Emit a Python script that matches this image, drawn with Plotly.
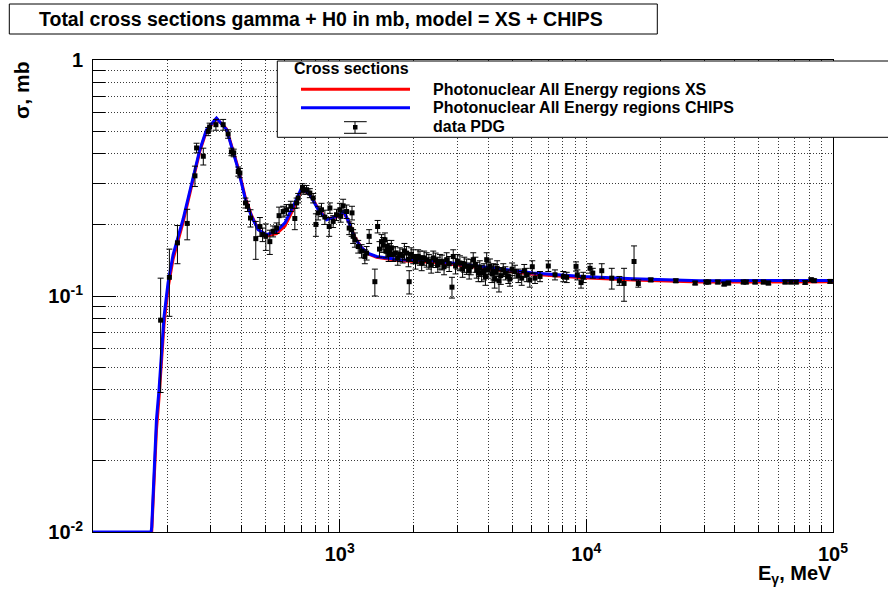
import plotly.graph_objects as go

# ---------------- data ----------------
# model curves (energy in MeV, sigma in mb)
model_energy = [100, 172, 173, 178, 180.8, 185.2, 189.5, 194.1, 201.5, 211.1, 231.8, 250.7, 271, 288.4,
                316.7, 348, 368, 388, 415, 439, 467, 505, 555, 600, 648, 701, 757, 818, 885, 971,
                1040, 1090, 1150, 1230, 1300, 1411, 1754, 2388, 3272, 4196, 6077, 9696, 15470,
                28930, 100000]
sigma_chips = [0.01, 0.01, 0.0105, 0.0202, 0.0299, 0.0401, 0.0592, 0.082, 0.1139, 0.1496, 0.2115, 0.2977,
               0.4169, 0.5066, 0.5679, 0.507, 0.417, 0.343, 0.256, 0.2175, 0.191, 0.182, 0.188, 0.204,
               0.240, 0.287, 0.269, 0.232, 0.2105, 0.2175, 0.228, 0.205, 0.176, 0.160, 0.152, 0.147,
               0.1425, 0.141, 0.1357, 0.1314, 0.1252, 0.121, 0.1184, 0.1161, 0.1163]
sigma_xs = [0.0099, 0.0099, 0.0100, 0.0180, 0.0270, 0.0370, 0.0550, 0.0760, 0.1080, 0.1430, 0.2050, 0.2920,
            0.4100, 0.5000, 0.5650, 0.510, 0.422, 0.348, 0.260, 0.2200, 0.192, 0.180, 0.184, 0.198,
            0.233, 0.283, 0.270, 0.235, 0.2120, 0.2160, 0.226, 0.206, 0.178, 0.160, 0.151, 0.146,
            0.1410, 0.139, 0.1340, 0.1300, 0.1235, 0.1195, 0.1168, 0.1145, 0.1148]

# PDG data points
pdg_energy = [188, 204, 220, 241, 259, 263, 280, 293, 297, 315, 337, 353, 364, 372, 388, 394, 415, 423,
              435, 457, 475, 487, 502, 521, 537, 555, 568, 590, 609, 634, 658, 669, 679, 707, 711, 734,
              757, 781, 801, 818, 844, 871, 907, 913, 941, 971, 1002, 1010, 1033, 1067, 1093, 1118, 1122,
              1134, 1153, 1189, 1227, 1265, 1286, 1317, 1389, 1425, 1450, 1479, 1500, 1526, 1540, 1559,
              1580, 1598, 1620, 1648, 1680, 1720, 1754, 1800, 1830, 1868, 1900, 1914, 1950, 1987, 2030,
              2080, 2116, 2150, 2200, 2252, 2300, 2350, 2395, 2450, 2500, 2550, 2600, 2650, 2715, 2780,
              2853, 2887, 2950, 3000, 3073, 3150, 3200, 3272, 3350, 3400, 3479, 3550, 3593, 3650, 3700,
              3764, 3850, 3900, 3945, 4000, 4068, 4150, 4200, 4250, 4300, 4350, 4424, 4500, 4605, 4700,
              4827, 4900, 5000, 5138, 5300, 5470, 5600, 5731, 5900, 6038, 6194, 6490, 7012, 7464, 8067,
              8327, 9083, 9193, 9517, 9723, 10350, 10620, 11550, 12680, 13610, 14220, 15610, 16250,
              18250, 23060, 27610, 30600, 31260, 34120, 36200, 37670, 43350, 44460, 48340, 52250,
              54730, 64000, 67480, 70920, 77140, 81560, 83880, 97400]
pdg_sigma = [0.079, 0.120, 0.168, 0.203, 0.323, 0.424, 0.391, 0.498, 0.520, 0.532, 0.532, 0.486, 0.408,
             0.404, 0.337, 0.332, 0.248, 0.240, 0.214, 0.175, 0.197, 0.182, 0.179, 0.170, 0.188, 0.194,
             0.219, 0.228, 0.232, 0.240, 0.213, 0.248, 0.260, 0.287, 0.282, 0.282, 0.273, 0.260, 0.201,
             0.225, 0.232, 0.216, 0.197, 0.236, 0.207, 0.221, 0.232, 0.2175, 0.241, 0.228, 0.194, 0.191,
             0.225, 0.179, 0.173, 0.162, 0.155, 0.147, 0.152, 0.179, 0.115, 0.197, 0.158, 0.170, 0.165,
             0.173, 0.155, 0.162, 0.150, 0.157, 0.160, 0.150, 0.152, 0.145, 0.150, 0.148, 0.155, 0.152,
             0.143, 0.115, 0.150, 0.147, 0.140, 0.147, 0.145, 0.138, 0.145, 0.1425, 0.140, 0.135, 0.145,
             0.142, 0.136, 0.140, 0.139, 0.133, 0.1425, 0.137, 0.109, 0.147, 0.134, 0.140, 0.138, 0.130,
             0.136, 0.1335, 0.128, 0.133, 0.1425, 0.136, 0.129, 0.125, 0.131, 0.125, 0.127, 0.121,
             0.1425, 0.129, 0.1335, 0.124, 0.127, 0.118, 0.126, 0.131, 0.116, 0.122, 0.129, 0.125,
             0.121, 0.118, 0.130, 0.127, 0.122, 0.119, 0.128, 0.123, 0.117, 0.133, 0.119, 0.121, 0.134,
             0.123, 0.121, 0.120, 0.1335, 0.123, 0.114, 0.120, 0.131, 0.125, 0.128, 0.119, 0.116,
             0.113, 0.140, 0.113, 0.117, 0.116, 0.1135, 0.1146, 0.1146, 0.1146, 0.1124, 0.1135,
             0.1146, 0.1146, 0.1146, 0.1146, 0.1135, 0.1146, 0.1146, 0.1146, 0.1142, 0.1172, 0.1161,
             0.1153]
pdg_error = [0.040, 0.038, 0.031, 0.030, 0.032, 0.020, 0.032, 0.020, 0.020, 0.028, 0.028, 0.020, 0.015,
             0.015, 0.015, 0.015, 0.012, 0.012, 0.018, 0.032, 0.018, 0.012, 0.023, 0.020, 0.010, 0.010,
             0.019, 0.012, 0.012, 0.012, 0.022, 0.012, 0.012, 0.012, 0.012, 0.012, 0.012, 0.012, 0.022,
             0.015, 0.015, 0.015, 0.018, 0.012, 0.012, 0.012, 0.015, 0.012, 0.016, 0.015, 0.012, 0.012,
             0.015, 0.012, 0.012, 0.010, 0.010, 0.010, 0.010, 0.012, 0.015, 0.012, 0.012, 0.012, 0.012,
             0.012, 0.010, 0.010, 0.010, 0.010, 0.012, 0.010, 0.010, 0.010, 0.010, 0.010, 0.012, 0.010,
             0.010, 0.013, 0.010, 0.010, 0.010, 0.010, 0.010, 0.010, 0.010, 0.010, 0.010, 0.010, 0.010,
             0.010, 0.010, 0.010, 0.010, 0.010, 0.010, 0.010, 0.011, 0.010, 0.010, 0.010, 0.010, 0.010,
             0.010, 0.010, 0.010, 0.010, 0.010, 0.010, 0.010, 0.010, 0.010, 0.010, 0.010, 0.010, 0.010,
             0.010, 0.010, 0.010, 0.010, 0.010, 0.010, 0.010, 0.012, 0.010, 0.008, 0.008, 0.008, 0.008,
             0.008, 0.008, 0.008, 0.008, 0.008, 0.008, 0.008, 0.008, 0.006, 0.006, 0.007, 0.006, 0.006,
             0.006, 0.006, 0.006, 0.006, 0.006, 0.006, 0.006, 0.009, 0.012, 0.005, 0.018, 0.023, 0.004,
             0.002, 0.002, 0.002, 0.002, 0.002, 0.002, 0.002, 0.002, 0.002, 0.002, 0.002, 0.002, 0.002,
             0.002, 0.002, 0.002, 0.002, 0.002, 0.002, 0.002]

x_major = [1e3, 1e4, 1e5]
x_major_text = ["10<sup>3</sup>", "10<sup>4</sup>", "10<sup>5</sup>"]
x_minor = [m * 10 ** k for k in (2, 3, 4) for m in range(2, 10)]
y_major = [0.01, 0.1, 1]
y_major_text = ["10<sup>-2</sup>", "10<sup>-1</sup>", "1"]
y_minor = [m * 10 ** k for k in (-2, -1) for m in range(2, 10)]

title_text = "Total cross sections gamma + H0 in mb, model = XS + CHIPS"
legend_header = "Cross sections"
legend_labels = ["Photonuclear All Energy regions XS", "Photonuclear All Energy regions CHIPS", "data PDG"]

# ---------------- layout geometry ----------------
W, H = 888, 589
ML, MR, MT, MB = 93, 55, 60, 57
PW, PH = W - ML - MR, H - MT - MB


def fx(px):
    return (px - ML) / PW


def fy(py):
    return (H - MB - py) / PH


FONT = "Liberation Sans, Arial, sans-serif"

fig = go.Figure()
fig.add_trace(go.Scatter(x=model_energy, y=sigma_xs, mode="lines",
                         line=dict(color="#ff0000", width=3), name=legend_labels[0]))
fig.add_trace(go.Scatter(x=model_energy, y=sigma_chips, mode="lines",
                         line=dict(color="#0000ff", width=3), name=legend_labels[1]))
fig.add_trace(go.Scatter(x=pdg_energy, y=pdg_sigma, mode="markers",
                         marker=dict(symbol="square", size=5, color="black"),
                         error_y=dict(type="data", array=pdg_error, visible=True,
                                      color="black", thickness=1, width=3),
                         name=legend_labels[2]))

grid_col = "#3a3a3a"
grid_dash = "1px,2px"
tickfont = dict(family=FONT, size=20, color="black", weight="bold")

fig.update_xaxes(type="log", range=[2, 5], tickmode="array", tickvals=x_major, ticktext=x_major_text,
                 ticks="inside", ticklen=13, tickwidth=1, tickcolor="black",
                 showline=True, linecolor="black", linewidth=1, mirror=True,
                 showgrid=True, gridcolor=grid_col, griddash=grid_dash, gridwidth=1,
                 zeroline=False, tickfont=tickfont, ticklabelstandoff=4,
                 minor=dict(tickmode="array", tickvals=x_minor, ticks="inside", ticklen=7,
                            tickwidth=1, tickcolor="black", showgrid=True, gridcolor=grid_col,
                            griddash=grid_dash, gridwidth=1))
fig.update_yaxes(type="log", range=[-2, 0], tickmode="array", tickvals=y_major, ticktext=y_major_text,
                 ticks="inside", ticklen=23, tickwidth=1, tickcolor="black",
                 showline=True, linecolor="black", linewidth=1, mirror=True,
                 showgrid=True, gridcolor=grid_col, griddash=grid_dash, gridwidth=1,
                 zeroline=False, tickfont=tickfont, ticklabelstandoff=5,
                 minor=dict(tickmode="array", tickvals=y_minor, ticks="inside", ticklen=12,
                            tickwidth=1, tickcolor="black", showgrid=True, gridcolor=grid_col,
                            griddash=grid_dash, gridwidth=1))

shapes = []
# title box
shapes.append(dict(type="rect", xref="paper", yref="paper", x0=fx(9.3), x1=fx(657.3), y0=fy(34), y1=fy(4),
                   line=dict(color="black", width=1), fillcolor="white", layer="above"))
# legend box
shapes.append(dict(type="rect", xref="paper", yref="paper", x0=fx(277.3), x1=fx(895), y0=fy(137.3), y1=fy(61),
                   line=dict(color="black", width=1), fillcolor="white", layer="above"))
# legend samples
shapes.append(dict(type="line", xref="paper", yref="paper", x0=fx(301), x1=fx(410), y0=fy(89.3), y1=fy(89.3),
                   line=dict(color="#ff0000", width=3), layer="above"))
shapes.append(dict(type="line", xref="paper", yref="paper", x0=fx(301), x1=fx(410), y0=fy(107.7), y1=fy(107.7),
                   line=dict(color="#0000ff", width=3), layer="above"))
shapes.append(dict(type="line", xref="paper", yref="paper", x0=fx(355), x1=fx(355), y0=fy(133.3), y1=fy(121.7),
                   line=dict(color="black", width=1), layer="above"))
for cy in (121.7, 133.3):
    shapes.append(dict(type="line", xref="paper", yref="paper", x0=fx(344), x1=fx(366.7), y0=fy(cy), y1=fy(cy),
                       line=dict(color="black", width=1), layer="above"))
shapes.append(dict(type="rect", xref="paper", yref="paper", x0=fx(353), x1=fx(357.5), y0=fy(129.5), y1=fy(125),
                   line=dict(color="black", width=0), fillcolor="black", layer="above"))

annotations = []
annotations.append(dict(text=title_text, xref="paper", yref="paper", x=fx(37), y=fy(19.5),
                        xanchor="left", yanchor="middle", showarrow=False,
                        font=dict(family=FONT, size=19.5, color="black", weight="bold")))
annotations.append(dict(text=legend_header, xref="paper", yref="paper", x=fx(292), y=fy(69),
                        xanchor="left", yanchor="middle", showarrow=False,
                        font=dict(family=FONT, size=16, color="black", weight="bold")))
for lbl, cy in zip(legend_labels, (89.3, 107.7, 126.7)):
    annotations.append(dict(text=lbl, xref="paper", yref="paper", x=fx(431), y=fy(cy),
                            xanchor="left", yanchor="middle", showarrow=False,
                            font=dict(family=FONT, size=16, color="black", weight="bold")))
annotations.append(dict(text="σ, mb", xref="paper", yref="paper", x=fx(22), y=fy(59),
                        xanchor="center", yanchor="top", textangle=-90, showarrow=False,
                        font=dict(family=FONT, size=21, color="black", weight="bold")))
annotations.append(dict(text="E<sub>γ</sub>, MeV", xref="paper", yref="paper", x=fx(834), y=fy(589),
                        xanchor="right", yanchor="bottom", showarrow=False,
                        font=dict(family=FONT, size=20, color="black", weight="bold")))

fig.update_layout(width=W, height=H, margin=dict(l=ML, r=MR, t=MT, b=MB, pad=0),
                  paper_bgcolor="white", plot_bgcolor="white", showlegend=False,
                  shapes=shapes, annotations=annotations)

fig.write_html("out.html")
